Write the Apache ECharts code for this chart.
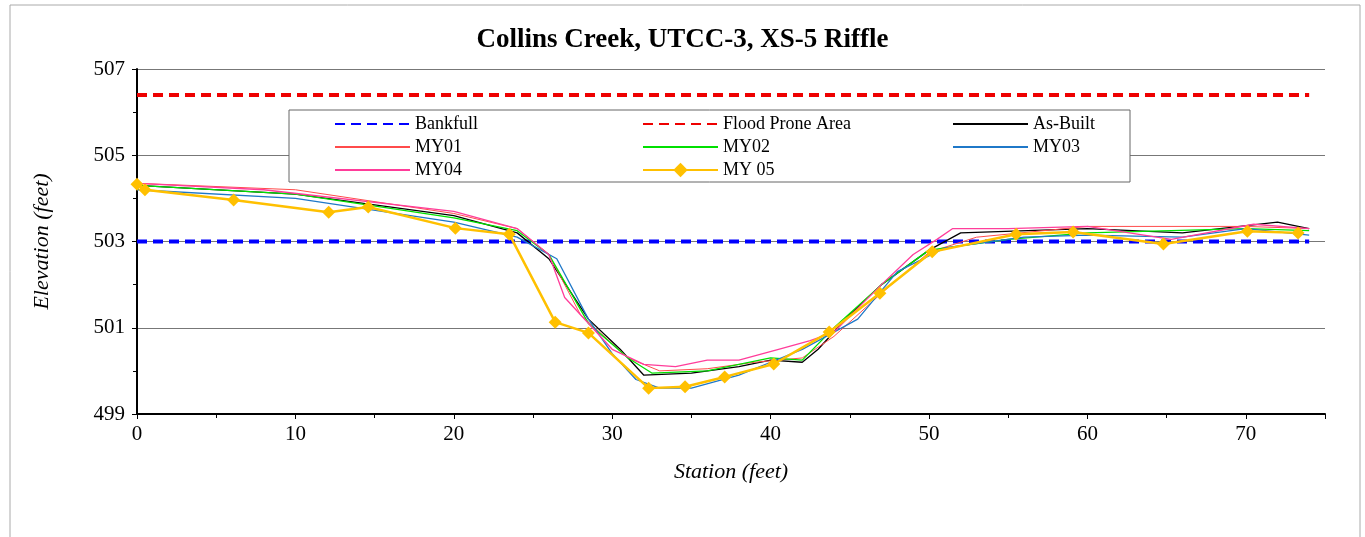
<!DOCTYPE html>
<html><head><meta charset="utf-8">
<script src="https://cdn.jsdelivr.net/npm/echarts@6/dist/echarts.min.js"></script>
<style>body{margin:0;background:#fff}#c{width:1365px;height:537px}</style>
</head><body><div id="c"></div>
<script>
var chart = echarts.init(document.getElementById('c'));

var bankfull = [[0, 503], [74, 503]];
var floodProne = [[0, 506.4], [74, 506.4]];
var asBuilt = [[0,504.3],[10,504.1],[20,503.6],[24,503.2],[26,502.6],[28.5,501.2],[30.5,500.5],[32,499.9],[35,499.95],[38,500.1],[40,500.25],[42,500.2],[43,500.5],[45,501.3],[47,502.0],[50,502.8],[52,503.2],[60,503.3],[66,503.2],[72,503.45],[74,503.3]];
var my01 = [[0,504.35],[10,504.2],[20,503.65],[24,503.3],[26,502.7],[28,501.3],[31,500.3],[33,500.0],[36,500.05],[39,500.2],[42,500.3],[44,500.8],[47,501.8],[50,502.75],[53,503.1],[60,503.35],[70,503.35],[74,503.3]];
var my02 = [[0,504.3],[10,504.1],[20,503.55],[24,503.25],[26,502.7],[28.5,501.1],[31,500.3],[32.5,499.95],[36,500.0],[40,500.3],[42,500.25],[44,501.0],[47,502.0],[50,502.8],[55,503.05],[60,503.2],[70,503.3],[74,503.25]];
var my03 = [[0,504.2],[10,504.0],[20,503.45],[24,503.1],[26.5,502.6],[28.5,501.2],[30,500.4],[31.5,499.8],[33,499.6],[35,499.6],[38,499.9],[40,500.2],[42,500.5],[44,500.9],[45.5,501.2],[48,502.3],[51,502.85],[56,503.1],[60,503.15],[66,503.1],[70,503.3],[74,503.15]];
var my04 = [[0,504.35],[8,504.2],[20,503.7],[24,503.3],[26,502.7],[27,501.7],[30,500.5],[32,500.15],[34,500.1],[36,500.25],[38,500.25],[40.5,500.5],[42.5,500.7],[44,500.9],[47,502.0],[49,502.7],[50.5,503.05],[51.5,503.3],[55,503.3],[60,503.35],[65.3,503.05],[70.5,503.4],[74,503.3]];
var my05 = [[0,504.33],[0.5,504.2],[6.1,503.96],[12.1,503.68],[14.6,503.8],[20.1,503.31],[23.5,503.17],[26.4,501.13],[28.5,500.88],[32.3,499.6],[34.6,499.63],[37.1,499.86],[40.2,500.16],[43.7,500.9],[46.9,501.8],[50.2,502.76],[55.5,503.17],[59.1,503.22],[64.8,502.94],[70.1,503.24],[73.3,503.2]];

var font = 'Liberation Serif';
function line(name, data, color, width, type) {
    return {name: name, type: 'line', data: data, symbol: 'none', color: color,
        lineStyle: {color: color, width: width, type: type || 'solid'}, z: 2};
}
function plain(name) { return {name: name, itemStyle: {opacity: 0}}; }
var legendBase = {orient: 'vertical', itemWidth: 75, itemHeight: 18, itemGap: 5, z: 100, padding: 0,
    textStyle: {fontFamily: font, fontSize: 18, lineHeight: 18, color: '#000'}};

chart.setOption({
    animation: false,
    title: {text: 'Collins Creek, UTCC-3, XS-5 Riffle', left: 'center', top: 22,
        textStyle: {fontFamily: font, fontSize: 27, fontWeight: 'bold', color: '#000'}},
    graphic: [
        {type: 'rect', shape: {x: 10, y: 5, width: 1350, height: 540}, style: {fill: 'none', stroke: '#aaa', lineWidth: 1}, z: -1},
        {type: 'rect', shape: {x: 289, y: 110, width: 841, height: 72}, style: {fill: '#fff', stroke: '#666', lineWidth: 1}, z: 50}
    ],
    legend: [
        Object.assign({}, legendBase, {left: 334, top: 115, data: [plain('Bankfull'), plain('MY01'), plain('MY04')]}),
        Object.assign({}, legendBase, {left: 642, top: 115, data: [plain('Flood Prone Area'), plain('MY02'), 'MY 05']}),
        Object.assign({}, legendBase, {left: 952, top: 115, data: [plain('As-Built'), plain('MY03')]})
    ],
    grid: {left: 137, right: 40, top: 69, bottom: 123},
    xAxis: {type: 'value', min: 0, max: 75, interval: 10,
        name: 'Station (feet)', nameLocation: 'middle', nameGap: 47,
        nameTextStyle: {fontFamily: font, fontSize: 22, fontStyle: 'italic', color: '#000'},
        axisLine: {lineStyle: {color: '#000', width: 2}},
        axisTick: {length: 5, lineStyle: {color: '#000'}},
        minorTick: {show: true, splitNumber: 2, length: 4, lineStyle: {color: '#000'}},
        axisLabel: {fontFamily: font, fontSize: 21, color: '#000', margin: 10,
            formatter: function (v) { return v % 10 === 0 ? v : ''; }},
        splitLine: {show: false}},
    yAxis: {type: 'value', min: 499, max: 507, interval: 2,
        name: 'Elevation (feet)', nameLocation: 'middle', nameGap: 84,
        nameTextStyle: {fontFamily: font, fontSize: 22, fontStyle: 'italic', color: '#000'},
        axisLine: {show: true, lineStyle: {color: '#000', width: 2}},
        axisTick: {show: true, length: 5, lineStyle: {color: '#000'}},
        minorTick: {show: true, splitNumber: 2, length: 4, lineStyle: {color: '#000'}},
        axisLabel: {fontFamily: font, fontSize: 21, color: '#000', margin: 12},
        splitLine: {show: true, lineStyle: {color: '#777', width: 1}}},
    series: [
        line('Bankfull', bankfull, '#0000ff', 4, [10, 6]),
        line('Flood Prone Area', floodProne, '#ee0000', 4, [10, 6]),
        line('As-Built', asBuilt, '#000000', 1.3),
        line('MY01', my01, '#ff4b4b', 1),
        line('MY02', my02, '#00e000', 1.3),
        line('MY03', my03, '#1f78c8', 1.3),
        line('MY04', my04, '#ff3d9a', 1.3),
        {name: 'MY 05', type: 'line', data: my05, symbol: 'diamond', symbolSize: 13,
            color: '#ffc000', lineStyle: {color: '#ffc000', width: 2.5}, itemStyle: {color: '#ffc000'}, z: 3}
    ]
});
</script></body></html>
